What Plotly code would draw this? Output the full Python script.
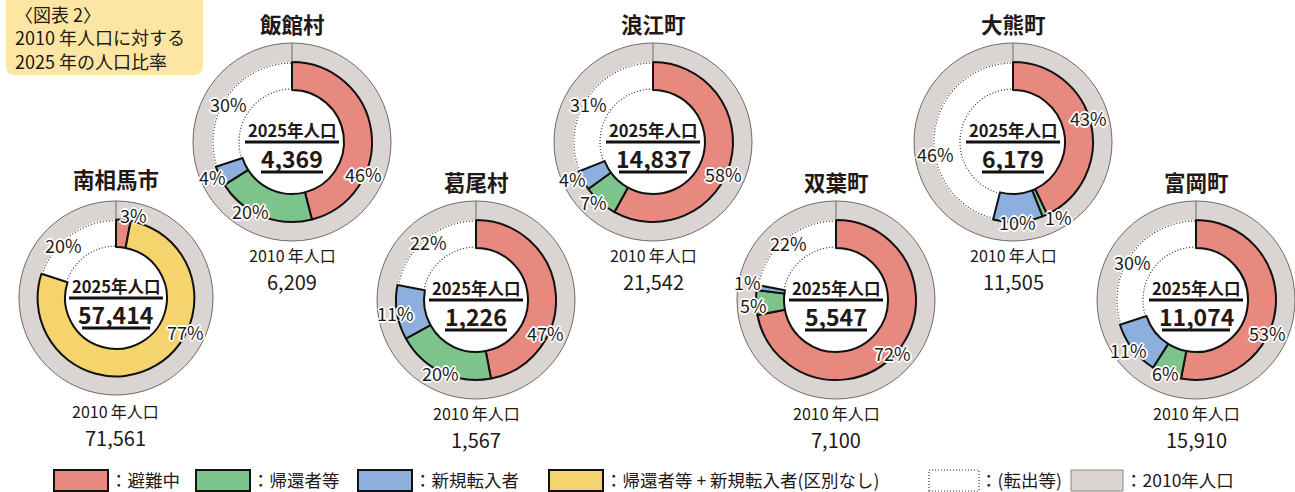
import math
import plotly.graph_objects as go

W, H = 1295, 492
FONT = "Noto Sans CJK JP"
INK = "#231815"

# ---------------- data ----------------
towns = ["南相馬市", "飯館村", "葛尾村", "浪江町", "双葉町", "大熊町", "富岡町"]
pop_2010 = [71561, 6209, 1567, 21542, 7100, 11505, 15910]
pop_2025 = [57414, 4369, 1226, 14837, 5547, 6179, 11074]
pct_evacuating = [3, 46, 47, 58, 72, 43, 53]            # 避難中
pct_returned = [None, 20, 20, 7, 5, 1, 6]               # 帰還者等
pct_newcomers = [None, 4, 11, 4, 1, 10, 11]             # 新規転入者
pct_combined = [77, None, None, None, None, None, None]  # 帰還者等 + 新規転入者（区別なし）
pct_moved_out = [20, 30, 22, 31, 22, 46, 30]             # 転出等

legend_labels = ["：避難中", "：帰還者等", "：新規転入者",
                 "：帰還者等 + 新規転入者(区別なし)", "：(転出等)", "：2010年人口"]
caption_lines = ["〈図表 2〉", "2010 年人口に対する", "2025 年の人口比率"]

# ---------------- styles / layout ----------------
RED, GREEN, BLUE, YELLOW = "#E8897F", "#7DC38C", "#8CAFDD", "#F5D46E"
GRAY, BOX = "#DAD5D2", "#FDE6A4"
CLEAR = "rgba(0,0,0,0)"

series = [
    (pct_evacuating, RED),
    (pct_returned, GREEN),
    (pct_newcomers, BLUE),
    (pct_combined, YELLOW),
    (pct_moved_out, None),
]

centers = [(116, 298), (292, 142), (476, 300), (653, 142), (836, 300), (1013, 142), (1196, 300)]
scales = [0.98, 1, 1, 1, 1, 1, 1]
R_OUT, R_RING, R_HOLE = 99, 80, 52

# label offsets (px from centre) in slice order for each chart
label_offsets = [
    [(17, -83), (69, 34), (-53, -53)],
    [(71, 32), (-42, 69), (-80, 35), (-64, -38)],
    [(69, 33), (-36, 73), (-81, 13), (-48, -58)],
    [(70, 32), (-60, 60), (-81, 37), (-65, -38)],
    [(56, 53), (-83, 5), (-89, -18), (-48, -57)],
    [(75, -24), (45, 75), (4, 80), (-78, 12)],
    [(71, 33), (-31, 73), (-68, 50), (-64, -38)],
]


def px(x):
    return x / W


def py(y):
    return 1 - y / H


HALO = ", ".join(f"{a}px {b}px 0 #fff" for a, b in
                 [(1, 0), (-1, 0), (0, 1), (0, -1), (1, 1), (-1, -1), (1, -1), (-1, 1),
                  (2, 0), (-2, 0), (0, 2), (0, -2)])

fig = go.Figure()
shapes = []
annotations = []


def ann(x, y, text, size, color=INK, xanchor="center", yanchor="middle", shadow=None):
    f = dict(family=FONT, size=size, color=color)
    if shadow:
        f["shadow"] = shadow
    annotations.append(dict(x=px(x), y=py(y), xref="paper", yref="paper", text=text,
                            showarrow=False, xanchor=xanchor, yanchor=yanchor, font=f,
                            align="left", borderpad=0))


def arc_path(cx, cy, r, a0, a1, step=2.0):
    n = max(2, int(abs(a1 - a0) / step) + 1)
    pts = []
    for k in range(n + 1):
        a = math.radians(a0 + (a1 - a0) * k / n)
        x = cx + r * math.sin(a)
        y = cy - r * math.cos(a)
        pts.append(f"{px(x):.6f},{py(y):.6f}")
    return "M " + " L ".join(pts)


for i, town in enumerate(towns):
    cx, cy = centers[i]
    s = scales[i]
    ro, rr, rh = R_OUT * s, R_RING * s, R_HOLE * s

    # outer 2010 ring
    fig.add_trace(go.Pie(
        values=[pop_2010[i]], labels=["2010年人口"], sort=False,
        marker=dict(colors=[GRAY], line=dict(width=0)), hole=rr / ro,
        domain=dict(x=[px(cx - ro), px(cx + ro)], y=[py(cy + ro), py(cy - ro)]),
        textinfo="none", hoverinfo="skip", showlegend=False))

    # inner 2025 ring
    vals, cols, lcols, lw = [], [], [], []
    for arr, col in series:
        v = arr[i]
        if v is None:
            continue
        vals.append(v)
        cols.append(col if col else CLEAR)
        lcols.append("#111111" if col else CLEAR)
        lw.append(2 if col else 0)
    fig.add_trace(go.Pie(
        values=vals, sort=False, direction="clockwise", rotation=0,
        marker=dict(colors=cols, line=dict(color=lcols, width=lw)), hole=rh / rr,
        domain=dict(x=[px(cx - rr), px(cx + rr)], y=[py(cy + rr), py(cy - rr)]),
        textinfo="none", hoverinfo="skip", showlegend=False))

    # outline of the outer ring
    shapes.append(dict(type="circle", xref="paper", yref="paper",
                       x0=px(cx - ro), x1=px(cx + ro), y0=py(cy + ro), y1=py(cy - ro),
                       line=dict(color="#6E6A68", width=1), layer="above"))
    # start tick
    shapes.append(dict(type="line", xref="paper", yref="paper",
                       x0=px(cx), x1=px(cx), y0=py(cy - ro), y1=py(cy - rr),
                       line=dict(color="#6E6A68", width=1), layer="above"))
    # dotted arcs for 転出等
    a0 = (100 - pct_moved_out[i]) / 100 * 360
    for r in (rr - 1, rh + 1):
        shapes.append(dict(type="path", xref="paper", yref="paper",
                           path=arc_path(cx, cy, r, a0, 360),
                           line=dict(color="#333333", width=1.2, dash="1px,2px"), layer="above"))

    # percent labels
    for (dx, dy), v in zip(label_offsets[i], vals):
        ann(cx + dx, cy + dy, f"{v}%", 18, shadow=HALO)

    # centre text
    ann(cx, cy - 12, "<b>2025年人口</b>", 16.5)
    shapes.append(dict(type="line", xref="paper", yref="paper",
                       x0=px(cx - 47), x1=px(cx + 47), y0=py(cy), y1=py(cy),
                       line=dict(color="#111111", width=3), layer="above"))
    num = f"{pop_2025[i]:,}"
    ann(cx, cy + 16, f"<b>{num}</b>", 23)
    hw = 3 * len(num) + 16
    shapes.append(dict(type="line", xref="paper", yref="paper",
                       x0=px(cx - hw), x1=px(cx + hw), y0=py(cy + 30), y1=py(cy + 30),
                       line=dict(color="#111111", width=3), layer="above"))

    # title and 2010 population
    ann(cx, cy - 119, f"<b>{town}</b>", 21.5)
    ann(cx, cy + 113, "2010\u2009年人口", 16)
    ann(cx, cy + 139, f"{pop_2010[i]:,}", 20)

# ---------------- top-left caption box ----------------
bx0, bx1, by0, by1, rad = 6, 203, -12, 75, 9
box_path = (f"M {px(bx0)},{py(by0)} L {px(bx1)},{py(by0)} "
            f"L {px(bx1)},{py(by1 - rad)} Q {px(bx1)},{py(by1)} {px(bx1 - rad)},{py(by1)} "
            f"L {px(bx0 + rad)},{py(by1)} Q {px(bx0)},{py(by1)} {px(bx0)},{py(by1 - rad)} Z")
shapes.append(dict(type="path", xref="paper", yref="paper", path=box_path,
                   fillcolor=BOX, line=dict(width=0), layer="below"))
ann(14, 0, "<br>".join(caption_lines), 18, xanchor="left", yanchor="top")

# ---------------- legend ----------------
leg_boxes = [(54, 108, RED, "solid"), (196, 250, GREEN, "solid"), (358, 412, BLUE, "solid"),
             (549, 603, YELLOW, "solid"), (929, 979, "#FFFFFF", "dot"), (1071, 1123, GRAY, "thin")]
leg_text_x = [109, 251, 413, 604, 979, 1124]
for (x0, x1, col, style), lab, tx in zip(leg_boxes, legend_labels, leg_text_x):
    if style == "solid":
        line = dict(color="#111111", width=2)
    elif style == "dot":
        line = dict(color="#333333", width=1.2, dash="1px,2px")
    else:
        line = dict(color="#8A8685", width=1)
    shapes.append(dict(type="rect", xref="paper", yref="paper",
                       x0=px(x0), x1=px(x1), y0=py(491), y1=py(470),
                       fillcolor=col, line=line, layer="above"))
    ann(tx, 479.5, lab, 17.5, xanchor="left")

fig.update_layout(
    width=W, height=H,
    margin=dict(l=0, r=0, t=0, b=0),
    paper_bgcolor="white", plot_bgcolor="white",
    shapes=shapes, annotations=annotations,
    showlegend=False,
    font=dict(family=FONT, color=INK),
)

fig.write_html("out.html", config={"displayModeBar": False},
               post_script="document.body.style.margin='0';")
